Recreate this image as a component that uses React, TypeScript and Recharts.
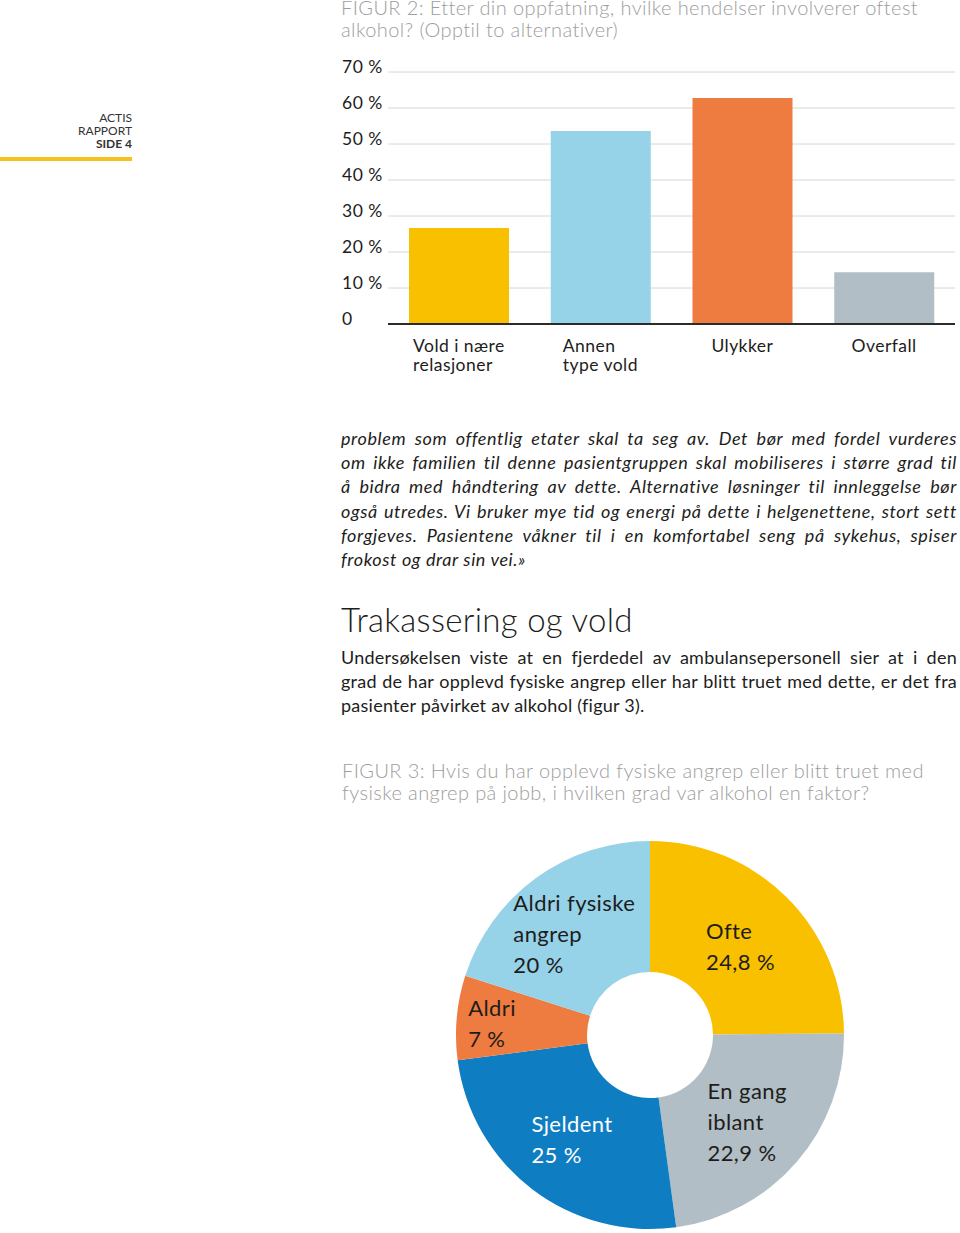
import React from "react";
import { Bar, BarChart, CartesianGrid, Cell, Pie, PieChart, XAxis, YAxis } from "recharts";

// figur 2 – bar chart
const barCategories = ["Vold i nære\nrelasjoner", "Annen\ntype vold", "Ulykker", "Overfall"];
const barValues = [26.7, 53.6, 62.8, 14.4];
const barColors = ["#F9C000", "#96D2E8", "#EE7B3F", "#B2BEC5"];
const yTicks = [0, 10, 20, 30, 40, 50, 60, 70];

// figur 3 – donut
const sliceNames = ["Ofte", "En gang iblant", "Sjeldent", "Aldri", "Aldri fysiske angrep"];
const sliceValues = [24.8, 22.9, 25, 7, 20];
const sliceLabels = ["Ofte\n24,8 %", "En gang\niblant\n22,9 %", "Sjeldent\n25 %", "Aldri\n7 %", "Aldri fysiske\nangrep\n20 %"];
const sliceColors = ["#F9C000", "#B2BEC5", "#0E7DC2", "#EE7B3F", "#96D2E8"];
const sliceTextColors = ["#1d1d1b", "#1d1d1b", "#ffffff", "#1d1d1b", "#1d1d1b"];

const italicLines = [
  "problem som offentlig etater skal ta seg av. Det bør med fordel vurderes",
  "om ikke familien til denne pasientgruppen skal mobiliseres i større grad til",
  "å bidra med håndtering av dette. Alternative løsninger til innleggelse bør",
  "også utredes. Vi bruker mye tid og energi på dette i helgenettene, stort sett",
  "forgjeves. Pasientene våkner til i en komfortabel seng på sykehus, spiser",
  "frokost og drar sin vei.»",
];
const bodyLines = [
  "Undersøkelsen viste at en fjerdedel av ambulansepersonell sier at i den",
  "grad de har opplevd fysiske angrep eller har blitt truet med dette, er det fra",
  "pasienter påvirket av alkohol (figur 3).",
];

const FONT = 'Lato, "Open Sans", sans-serif';
const TEXT = "#1d1d1b";
const GREY = "#9d9d9d";

const barData = barCategories.map((c, i) => ({ name: c, value: barValues[i] }));
const pieData = sliceNames.map((n, i) => ({ name: n, value: sliceValues[i] }));

let ctx: CanvasRenderingContext2D | null = null;
function measure(s: string, font: string, spacing = 0) {
  if (!ctx) ctx = document.createElement("canvas").getContext("2d");
  if (!ctx) return s.length * 9;
  ctx.font = font;
  return ctx.measureText(s).width + spacing * s.length;
}

function XTick(props: any) {
  const { x, y, payload } = props;
  const lines = String(payload.value).split("\n");
  const w = Math.max(...lines.map((l) => measure(l, `17.5px ${FONT}`, 0.45)));
  return (
    <text fontFamily={FONT} fontSize={17.5} letterSpacing={0.45} fill={TEXT} textAnchor="start">
      {lines.map((l, i) => (
        <tspan key={i} x={x - w / 2} y={y + 14 + i * 19} dy="0.35em">
          {l}
        </tspan>
      ))}
    </text>
  );
}

function YTick(props: any) {
  const { y, payload } = props;
  return (
    <text x={12} y={y - 5} dy="0.35em" fontFamily={FONT} fontSize={17.5} letterSpacing={0.5} fill={TEXT} textAnchor="start">
      {payload.value === 0 ? "0" : `${payload.value} %`}
    </text>
  );
}

function pieLabel(props: any) {
  const { cx, cy, midAngle, innerRadius, outerRadius, percent, index } = props;
  const lines = sliceLabels[index].split("\n");
  const r = percent < 0.1 ? innerRadius + (outerRadius - innerRadius) * 0.73 : (innerRadius + outerRadius) / 2;
  const rad = Math.PI / 180;
  const bx = cx + r * Math.cos(-midAngle * rad);
  const by = cy + r * Math.sin(-midAngle * rad) + 3;
  const w = Math.max(...lines.map((l) => measure(l, `22px ${FONT}`, 0.4)));
  const lh = 31;
  const top = by - ((lines.length - 1) * lh) / 2;
  return (
    <text key={index} fontFamily={FONT} fontSize={22} letterSpacing={0.4} fill={sliceTextColors[index]} textAnchor="start">
      {lines.map((l, i) => (
        <tspan key={i} x={bx - w / 2} y={top + i * lh} dy="0.35em">
          {l}
        </tspan>
      ))}
    </text>
  );
}

function Lines({ lines, style }: { lines: string[]; style: React.CSSProperties }) {
  return (
    <div style={style}>
      {lines.map((l, i) => (
        <div
          key={i}
          style={{ textAlign: "justify", textAlignLast: i === lines.length - 1 ? "left" : "justify", whiteSpace: "nowrap" }}
        >
          {l}
        </div>
      ))}
    </div>
  );
}

export default function App() {
  return (
    <div
      style={{
        position: "absolute",
        left: 0,
        top: 0,
        width: 960,
        height: 1233,
        overflow: "hidden",
        background: "#fff",
        fontFamily: FONT,
        color: TEXT,
      }}
    >
      {/* page marker */}
      <div style={{ position: "absolute", left: 0, top: 111, width: 132, textAlign: "right", fontSize: 12, lineHeight: "13px", color: "#333" }}>
        <div>ACTIS</div>
        <div>RAPPORT</div>
        <div style={{ fontWeight: 700 }}>SIDE 4</div>
      </div>
      <div style={{ position: "absolute", left: 0, top: 157, width: 132, height: 4, background: "#F5C21B" }} />

      <div style={{ position: "absolute", left: 341, top: -4, fontSize: 20, lineHeight: "22px", letterSpacing: 0.4, color: GREY, fontWeight: 300 }}>
        <div>FIGUR 2: Etter din oppfatning, hvilke hendelser involverer oftest</div>
        <div>alkohol? (Opptil to alternativer)</div>
      </div>

      <div style={{ position: "absolute", left: 330, top: 55 }}>
        <BarChart width={630} height={340} data={barData} margin={{ top: 17, right: 5, bottom: 0, left: 0 }} barSize={100}>
          <CartesianGrid vertical={false} stroke="#d6d6d6" strokeWidth={1} />
          <YAxis
            domain={[0, 70]}
            ticks={yTicks}
            width={58}
            axisLine={false}
            tickLine={false}
            tick={<YTick />}
            interval={0}
          />
          <XAxis
            dataKey="name"
            height={71}
            axisLine={{ stroke: "#2b2b2b", strokeWidth: 2 }}
            tickLine={false}
            tick={<XTick />}
            interval={0}
          />
          <Bar dataKey="value" isAnimationActive={false}>
            {barData.map((d, i) => (
              <Cell key={d.name} fill={barColors[i]} />
            ))}
          </Bar>
        </BarChart>
      </div>

      <Lines
        lines={italicLines}
        style={{ position: "absolute", left: 341, top: 426, width: 616, fontSize: 18, lineHeight: "24.2px", letterSpacing: 0.6, fontStyle: "italic" }}
      />

      <div style={{ position: "absolute", left: 341, top: 600, fontSize: 33, lineHeight: "38px", letterSpacing: 0.3, fontWeight: 300 }}>
        Trakassering og vold
      </div>

      <Lines
        lines={bodyLines}
        style={{ position: "absolute", left: 341, top: 645, width: 616, fontSize: 18, lineHeight: "24px", letterSpacing: 0.25 }}
      />

      <div style={{ position: "absolute", left: 342, top: 759, fontSize: 20, lineHeight: "22px", letterSpacing: 0.4, color: GREY, fontWeight: 300 }}>
        <div>FIGUR 3: Hvis du har opplevd fysiske angrep eller blitt truet med</div>
        <div>fysiske angrep på jobb, i hvilken grad var alkohol en faktor?</div>
      </div>

      <div style={{ position: "absolute", left: 450, top: 835 }}>
        <PieChart width={400} height={400} margin={{ top: 0, right: 0, bottom: 0, left: 0 }}>
          <Pie
            data={pieData}
            dataKey="value"
            nameKey="name"
            cx={200}
            cy={200}
            innerRadius={63}
            outerRadius={194}
            startAngle={90}
            endAngle={-270}
            stroke="none"
            label={pieLabel}
            labelLine={false}
            isAnimationActive={false}
          >
            {pieData.map((d, i) => (
              <Cell key={d.name} fill={sliceColors[i]} />
            ))}
          </Pie>
        </PieChart>
      </div>
    </div>
  );
}
